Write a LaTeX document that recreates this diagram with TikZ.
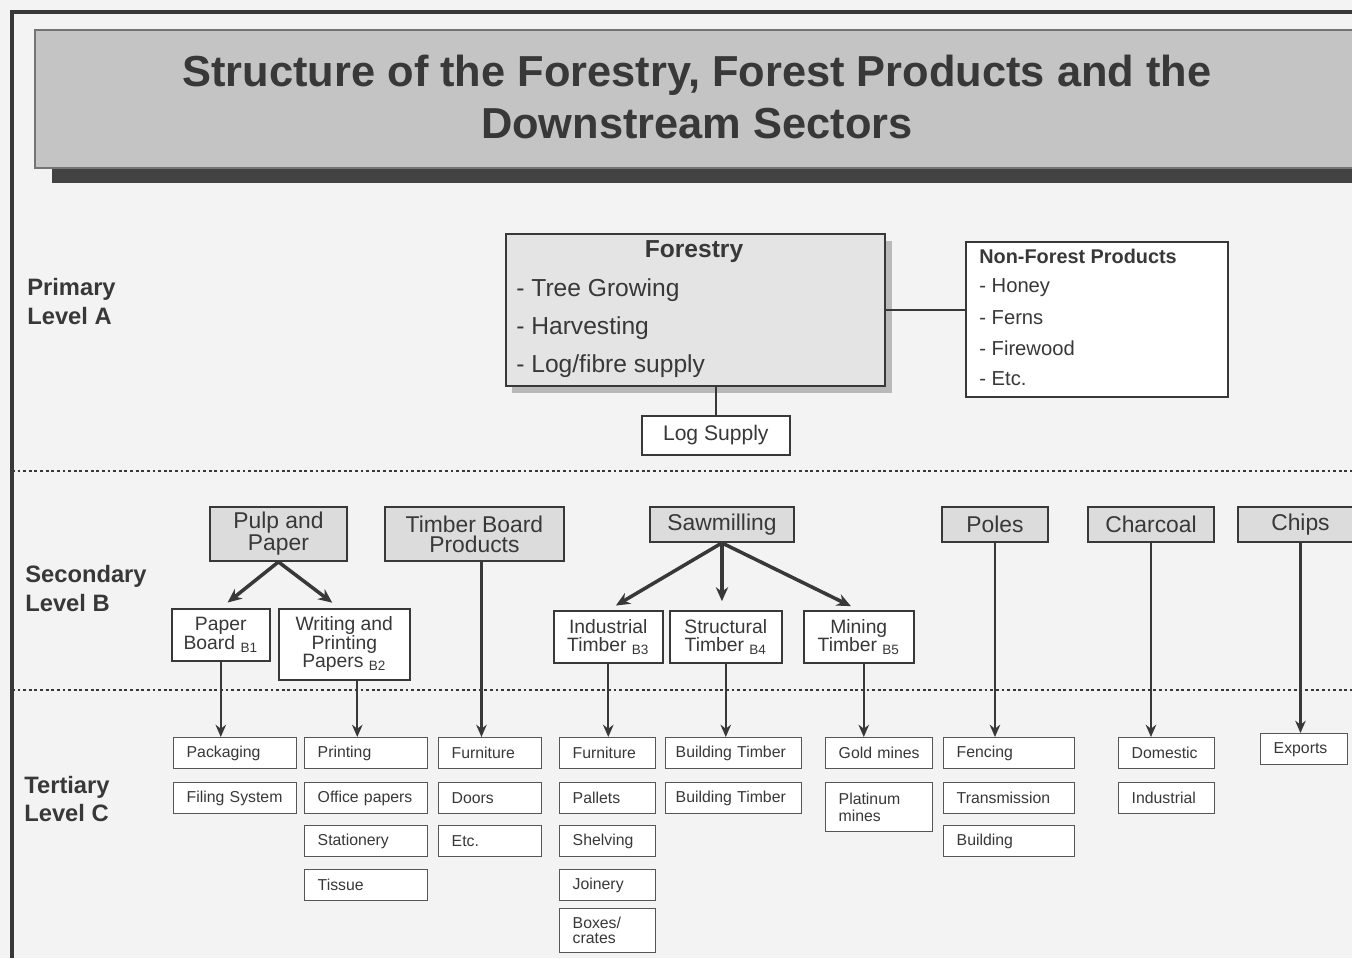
\documentclass[tikz,border=0pt]{standalone}
\usepackage{fontspec}
\setmainfont{Liberation Sans}
\usepackage{tikz}
\usetikzlibrary{arrows.meta}
\usetikzlibrary{calc}
\definecolor{ink}{HTML}{383838}
\definecolor{paper}{HTML}{F3F3F3}
\definecolor{titlegray}{HTML}{C4C4C4}
\definecolor{secgray}{HTML}{DCDCDC}
\definecolor{forgray}{HTML}{E4E4E4}

\begin{document}
\begin{tikzpicture}[x=0.02cm, y=-0.02cm,
    lvl/.style={anchor=west, align=left, inner sep=0pt, text=ink, font=\bfseries\fontsize{13.5}{16.5}\selectfont},
    secbox/.style={draw=ink, fill=secgray, line width=1.1pt, anchor=north west, inner sep=0pt, align=center, text=ink, font=\fontsize{13}{11.5}\selectfont},
    bbox/.style={draw=ink, fill=white, line width=0.9pt, anchor=north west, inner sep=0pt, align=center, text=ink, font=\fontsize{11}{10.5}\selectfont},
    tbox/.style={draw=ink!85, fill=white, line width=0.8pt, anchor=north west, inner xsep=0.26cm, inner ysep=0pt, text width=#1, align=left, minimum height=0.62cm, text=ink, font=\fontsize{9}{9}\selectfont},
    conn/.style={draw=ink, line width=1pt},
    arr/.style={draw=ink, line width=1.3pt, -{Stealth[length=7pt,width=6pt]}},
    sarr/.style={draw=ink, line width=2pt, -{Stealth[length=8pt,width=7pt]}, shorten >=5pt}]
    \useasboundingbox (0,0) rectangle (1352,958);
    \clip (0,0) rectangle (1352,958);
    \fill[paper] (0,0) rectangle (1352,958);

    % Frame
    \draw[ink, line width=2pt] (12,958) -- (12,12) -- (1360,12);

    % Title
    \fill[ink!95] (52,168) rectangle (1362,183);
    \draw[ink!70, fill=titlegray, line width=0.8pt] (35,30) rectangle (1362,168);
    \node[font=\bfseries\fontsize{24.7}{30}\selectfont, text=ink, align=center] (title) at (697,97)
        {Structure of the Forestry, Forest Products and the\\Downstream Sectors};

    % Level separators
    \draw[ink, line width=1.6pt, dash pattern=on 1.6pt off 1.6pt] (12,471) -- (1352,471);
    \draw[ink, line width=1.6pt, dash pattern=on 1.6pt off 1.6pt] (12,690) -- (1352,690);

    % Level labels
    \node[lvl] (lvla) at (27,302) {Primary\\Level A};
    \node[lvl] (lvlb) at (25,589) {Secondary\\Level B};
    \node[lvl] (lvlc) at (24,799) {Tertiary\\Level C};

    % Primary level
    \fill[gray!55] (512,241) rectangle (892,393);
    \node[draw=ink, fill=forgray, line width=1pt, anchor=north west, inner sep=0pt,
        minimum width=7.58cm, minimum height=3.04cm] (forestry) at (505,233) {};
    \node[font=\bfseries\fontsize{14}{14}\selectfont, text=ink] (fort) at (694,252) {Forestry};
    \node[anchor=west, inner sep=0pt, text=ink, font=\fontsize{14}{14}\selectfont] (fora) at (516,290) {- Tree Growing};
    \node[anchor=west, inner sep=0pt, text=ink, font=\fontsize{14}{14}\selectfont] (forb) at (516,328) {- Harvesting};
    \node[anchor=west, inner sep=0pt, text=ink, font=\fontsize{14}{14}\selectfont] (forc) at (516,366) {- Log/fibre supply};

    \node[draw=ink, fill=white, line width=0.9pt, anchor=north west, inner sep=0pt,
        minimum width=5.24cm, minimum height=3.10cm] (nfp) at (965,241) {};
    \node[anchor=west, inner sep=0pt, text=ink, font=\bfseries\fontsize{11.3}{11.3}\selectfont] (nfpt) at (979,256) {Non-Forest Products};
    \node[anchor=west, inner sep=0pt, text=ink, font=\fontsize{11.5}{11.5}\selectfont] (nfpa) at (979,288) {- Honey};
    \node[anchor=west, inner sep=0pt, text=ink, font=\fontsize{11.5}{11.5}\selectfont] (nfpb) at (979,318) {- Ferns};
    \node[anchor=west, inner sep=0pt, text=ink, font=\fontsize{11.5}{11.5}\selectfont] (nfpc) at (979,348) {- Firewood};
    \node[anchor=west, inner sep=0pt, text=ink, font=\fontsize{11.5}{11.5}\selectfont] (nfpd) at (979,379) {- Etc.};

    \node[draw=ink, fill=white, line width=0.9pt, anchor=north west, inner sep=0pt, text=ink,
        minimum width=2.96cm, minimum height=0.78cm, font=\fontsize{12}{12}\selectfont] (log) at (641,415) {Log Supply};

    \draw[conn] (forestry.east) -- (forestry.east -| nfp.west);
    \draw[conn] (log.north |- forestry.south) -- (log.north);

    % Secondary level
    \node[secbox, minimum width=2.74cm, minimum height=1.08cm] (pulp) at (209,506) {Pulp and\\Paper};
    \node[secbox, minimum width=3.58cm, minimum height=1.08cm] (tbp) at (384,506) {Timber Board\\Products};
    \node[secbox, minimum width=2.88cm, minimum height=0.70cm] (saw) at (649,506) {Sawmilling};
    \node[secbox, minimum width=2.12cm, minimum height=0.70cm] (poles) at (941,506) {Poles};
    \node[secbox, minimum width=2.52cm, minimum height=0.70cm] (coal) at (1087,506) {Charcoal};
    \node[secbox, minimum width=2.50cm, minimum height=0.70cm] (chips) at (1237,506) {Chips};

    \node[bbox, minimum width=1.96cm, minimum height=1.04cm] (pb) at (171,608) {Paper\\Board \textsubscript{B1}};
    \node[bbox, minimum width=2.62cm, minimum height=1.42cm] (wpp) at (278,608) {Writing and\\Printing\\Papers \textsubscript{B2}};
    \node[bbox, minimum width=2.18cm, minimum height=1.04cm] (ind) at (553,610) {Industrial\\Timber \textsubscript{B3}};
    \node[bbox, minimum width=2.24cm, minimum height=1.04cm] (str) at (669,610) {Structural\\Timber \textsubscript{B4}};
    \node[bbox, minimum width=2.20cm, minimum height=1.04cm] (mine) at (803,610) {Mining\\Timber \textsubscript{B5}};

    \draw[sarr] (pulp.south) -- (pb.north);
    \draw[sarr] (pulp.south) -- ([xshift=-0.1cm]wpp.north);
    \draw[sarr] (saw.south) -- (ind.north);
    \draw[sarr] (saw.south) -- (saw.south |- str.north);
    \draw[sarr] (saw.south) -- (mine.north);

    % Tertiary level
    \node[tbox=1.94cm] (pack) at (173,737) {Packaging};
    \node[tbox=1.94cm] (file) at (173,782) {Filing System};

    \node[tbox=1.94cm] (print) at (304,737) {Printing};
    \node[tbox=1.94cm] (office) at (304,782) {Office papers};
    \node[tbox=1.94cm] (stat) at (304,825) {Stationery};
    \node[tbox=1.94cm] (tissue) at (304,869) {Tissue};

    \node[tbox=1.54cm] (furna) at (438,737) {Furniture};
    \node[tbox=1.54cm] (doors) at (438,782) {Doors};
    \node[tbox=1.54cm] (etc) at (438,825) {Etc.};

    \node[tbox=1.40cm] (furnb) at (559,737) {Furniture};
    \node[tbox=1.40cm] (pallets) at (559,782) {Pallets};
    \node[tbox=1.40cm] (shelf) at (559,825) {Shelving};
    \node[tbox=1.40cm] (join) at (559,869) {Joinery};
    \node[tbox=1.40cm, minimum height=0.88cm, font=\fontsize{9}{8.5}\selectfont] (boxes) at (559,908) {Boxes/\\crates};

    \node[tbox=2.32cm, inner xsep=0.2cm] (builda) at (665,737) {Building Timber};
    \node[tbox=2.32cm, inner xsep=0.2cm] (buildb) at (665,782) {Building Timber};

    \node[tbox=1.62cm] (gold) at (825,737) {Gold mines};
    \node[tbox=1.62cm, minimum height=0.98cm, font=\fontsize{9}{9.5}\selectfont] (plat) at (825,782) {Platinum\\mines};

    \node[tbox=2.10cm] (fence) at (943,737) {Fencing};
    \node[tbox=2.10cm] (trans) at (943,782) {Transmission};
    \node[tbox=2.10cm] (buildc) at (943,825) {Building};

    \node[tbox=1.40cm] (dom) at (1118,737) {Domestic};
    \node[tbox=1.40cm] (indus) at (1118,782) {Industrial};

    \node[tbox=1.22cm] (exp) at (1260,733) {Exports};

    % Links down to level C
    \path (wpp.south) ++(13,0) coordinate (wppout);
    \path (tbp.south) ++(7,0) coordinate (tbpout);
    \draw[arr] (pb.south) -- (pb.south |- pack.north);
    \draw[arr] (wppout) -- (wppout |- print.north);
    \draw[arr] (tbpout) -- (tbpout |- furna.north);
    \draw[arr] (ind.south) -- (ind.south |- furnb.north);
    \draw[arr] (str.south) -- (str.south |- builda.north);
    \draw[arr] ([xshift=0.1cm]mine.south) -- ([xshift=0.1cm]mine.south |- gold.north);
    \draw[arr] (poles.south) -- (poles.south |- fence.north);
    \draw[arr] (coal.south) -- (coal.south |- dom.north);
    \draw[arr] (chips.south) -- (chips.south |- exp.north);
\end{tikzpicture}
\end{document}
